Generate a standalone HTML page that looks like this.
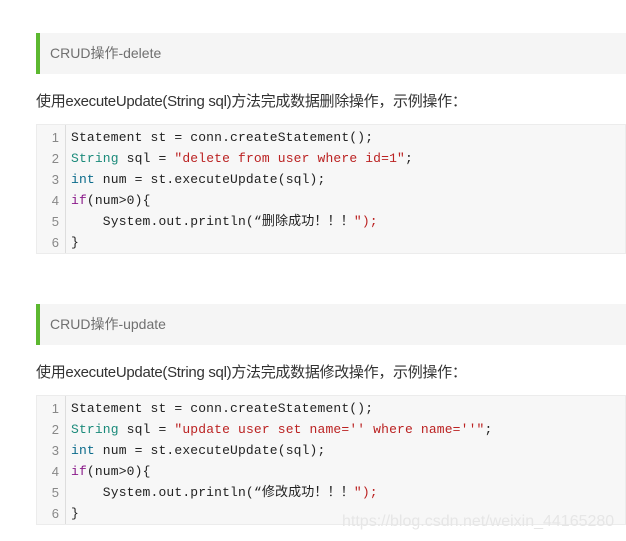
<!DOCTYPE html>
<html><head><meta charset="utf-8"><style>
body{margin:0;width:626px;height:541px;background:#fff;overflow:hidden;position:relative;font-family:"Liberation Sans","Noto Sans CJK SC",sans-serif;}
.h{position:absolute;left:36px;right:0;height:41px;background:#f5f5f5;border-left:4px solid #5cb830;box-sizing:border-box;color:#707070;font-size:14px;line-height:41px;padding-left:10px;}
.p{position:absolute;left:36px;font-size:15px;color:#333;letter-spacing:-0.3px;}
.c{position:absolute;left:36px;right:0;height:130px;background:#f7f7f7;border:1px solid #ececec;box-sizing:border-box;}
.g{position:absolute;left:0;top:0;width:28px;bottom:0;border-right:1px solid #ddd;}
.l{position:absolute;left:0;height:21px;line-height:21px;font-family:"Liberation Mono","Noto Sans CJK SC",monospace;font-size:13px;letter-spacing:0.15px;color:#222;white-space:pre;}
.n{position:absolute;left:10px;width:12px;text-align:right;color:#888;font-family:"Liberation Sans",sans-serif;font-size:13px;height:21px;line-height:21px;}
.k{color:#1a8a7a}.s{color:#b22}.i{color:#8a1a8a}.b{color:#0b6b8b}
.w{position:absolute;left:342px;top:513px;font-size:16px;color:#e6e6e6;font-family:"Liberation Sans",sans-serif;}
</style></head><body>
<div class="h" style="top:33px">CRUD操作-delete</div>
<div class="p" style="top:90px">使用executeUpdate(String sql)方法完成数据删除操作，示例操作：</div>
<div class="c" style="top:124px"><div class="g"></div>
<div class="n" style="top:2px">1</div><div class="n" style="top:23px">2</div><div class="n" style="top:44px">3</div><div class="n" style="top:65px">4</div><div class="n" style="top:86px">5</div><div class="n" style="top:107px">6</div>
<div class="l" style="left:34px;top:2px">Statement st = conn.createStatement();</div>
<div class="l" style="left:34px;top:23px"><span class="k">String</span> sql = <span class="s">"delete from user where id=1"</span>;</div>
<div class="l" style="left:34px;top:44px"><span class="b">int</span> num = st.executeUpdate(sql);</div>
<div class="l" style="left:34px;top:65px"><span class="i">if</span>(num&gt;0){</div>
<div class="l" style="left:34px;top:86px">    System.out.println(“删除成功！！！<span class="s">");</span></div>
<div class="l" style="left:34px;top:107px">}</div>
</div>
<div class="h" style="top:304px">CRUD操作-update</div>
<div class="p" style="top:361px">使用executeUpdate(String sql)方法完成数据修改操作，示例操作：</div>
<div class="c" style="top:395px"><div class="g"></div>
<div class="n" style="top:2px">1</div><div class="n" style="top:23px">2</div><div class="n" style="top:44px">3</div><div class="n" style="top:65px">4</div><div class="n" style="top:86px">5</div><div class="n" style="top:107px">6</div>
<div class="l" style="left:34px;top:2px">Statement st = conn.createStatement();</div>
<div class="l" style="left:34px;top:23px"><span class="k">String</span> sql = <span class="s">"update user set name='' where name=''"</span>;</div>
<div class="l" style="left:34px;top:44px"><span class="b">int</span> num = st.executeUpdate(sql);</div>
<div class="l" style="left:34px;top:65px"><span class="i">if</span>(num&gt;0){</div>
<div class="l" style="left:34px;top:86px">    System.out.println(“修改成功！！！<span class="s">");</span></div>
<div class="l" style="left:34px;top:107px">}</div>
</div>
<div class="w">https://blog.csdn.net/weixin_44165280</div>
</body></html>
